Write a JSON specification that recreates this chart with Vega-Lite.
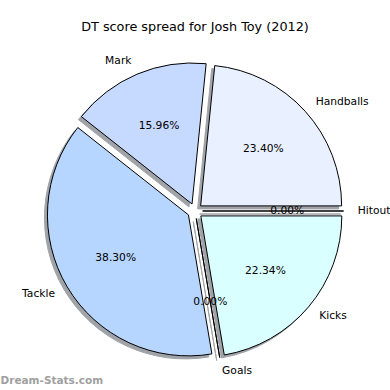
{
  "$schema": "https://vega.github.io/schema/vega-lite/v6.json",
  "autosize": "none",
  "width": 390,
  "height": 335,
  "padding": {"left": 0, "right": 0, "top": 40, "bottom": 15},
  "background": "white",
  "config": {"view": {"stroke": null}, "font": "DejaVu Sans"},
  "title": {"text": "DT score spread for Josh Toy (2012)", "font": "DejaVu Sans", "fontSize": 12.8, "fontWeight": "normal", "color": "black", "offset": 6},
  "data": {"values": [
    {"cat": "Handballs", "value": 22, "order": 1},
    {"cat": "Mark", "value": 15, "order": 2},
    {"cat": "Tackle", "value": 36, "order": 3},
    {"cat": "Goals", "value": 0, "order": 4},
    {"cat": "Kicks", "value": 21, "order": 5},
    {"cat": "Hitout", "value": 0, "order": 6}
  ]},
  "transform": [
    {"joinaggregate": [{"op": "sum", "field": "value", "as": "total"}]},
    {"stack": "value", "groupby": [], "sort": [{"field": "order", "order": "ascending"}], "as": ["s0", "s1"]},
    {"calculate": "datum.value / datum.total", "as": "share"},
    {"calculate": "datum.s0 / datum.total * 2 * PI", "as": "m0"},
    {"calculate": "datum.s1 / datum.total * 2 * PI", "as": "m1"},
    {"calculate": "(datum.m0 + datum.m1) / 2", "as": "mm"},
    {"calculate": "PI / 2 - datum.m1", "as": "a0"},
    {"calculate": "PI / 2 - datum.m0", "as": "a1"},
    {"calculate": "0.054 * cos(datum.mm)", "as": "cx"},
    {"calculate": "0.054 * sin(datum.mm)", "as": "cy"},
    {"calculate": "datum.cx + 1.1 * cos(datum.mm)", "as": "lx"},
    {"calculate": "datum.cy + 1.1 * sin(datum.mm)", "as": "ly"},
    {"calculate": "datum.cx + 0.6 * cos(datum.mm)", "as": "px"},
    {"calculate": "datum.cy + 0.6 * sin(datum.mm)", "as": "py"}
  ],
  "encoding": {
    "x": {"type": "quantitative", "scale": {"domain": [-1.383, 1.383], "nice": false, "zero": false}, "axis": {"title": "Dream-Stats.com", "titleAnchor": "start", "titleAlign": "left", "titleBaseline": "top", "titlePadding": 0, "titleFont": "DejaVu Sans", "titleFontSize": 10.5, "titleFontWeight": "bold", "titleColor": "#a0a0a0", "domain": false, "ticks": false, "labels": false, "grid": false}},
    "y": {"type": "quantitative", "scale": {"domain": [-1.1631, 1.2128], "nice": false, "zero": false}, "axis": null}
  },
  "layer": [
    {
      "mark": {"type": "arc", "outerRadius": 141, "fill": "#a0a3a8", "stroke": "#a0a3a8", "strokeWidth": 1, "xOffset": -3, "yOffset": 3},
      "encoding": {
        "x": {"field": "cx"},
        "y": {"field": "cy"},
        "theta": {"field": "a0", "type": "quantitative", "scale": null},
        "theta2": {"field": "a1"}
      }
    },
    {
      "mark": {"type": "arc", "outerRadius": 141, "stroke": "black", "strokeWidth": 1},
      "encoding": {
        "x": {"field": "cx"},
        "y": {"field": "cy"},
        "theta": {"field": "a0", "type": "quantitative", "scale": null},
        "theta2": {"field": "a1"},
        "color": {"field": "cat", "type": "nominal", "legend": null, "scale": {"domain": ["Handballs", "Mark", "Tackle", "Goals", "Kicks", "Hitout"], "range": ["#e9f0ff", "#c6d9ff", "#b6d5ff", "#d0e8ff", "#daffff", "#e0f0ff"]}}
      }
    },
    {
      "transform": [{"filter": "datum.lx >= 0"}],
      "mark": {"type": "text", "align": "left", "baseline": "middle", "fontSize": 10.7, "font": "DejaVu Sans", "color": "black"},
      "encoding": {"x": {"field": "lx"}, "y": {"field": "ly"}, "text": {"field": "cat"}}
    },
    {
      "transform": [{"filter": "datum.lx < 0"}],
      "mark": {"type": "text", "align": "right", "baseline": "middle", "fontSize": 10.7, "font": "DejaVu Sans", "color": "black"},
      "encoding": {"x": {"field": "lx"}, "y": {"field": "ly"}, "text": {"field": "cat"}}
    },
    {
      "mark": {"type": "text", "align": "center", "baseline": "middle", "fontSize": 10.7, "font": "DejaVu Sans", "color": "black"},
      "encoding": {"x": {"field": "px"}, "y": {"field": "py"}, "text": {"field": "share", "format": ".2%"}}
    }
  ]
}
